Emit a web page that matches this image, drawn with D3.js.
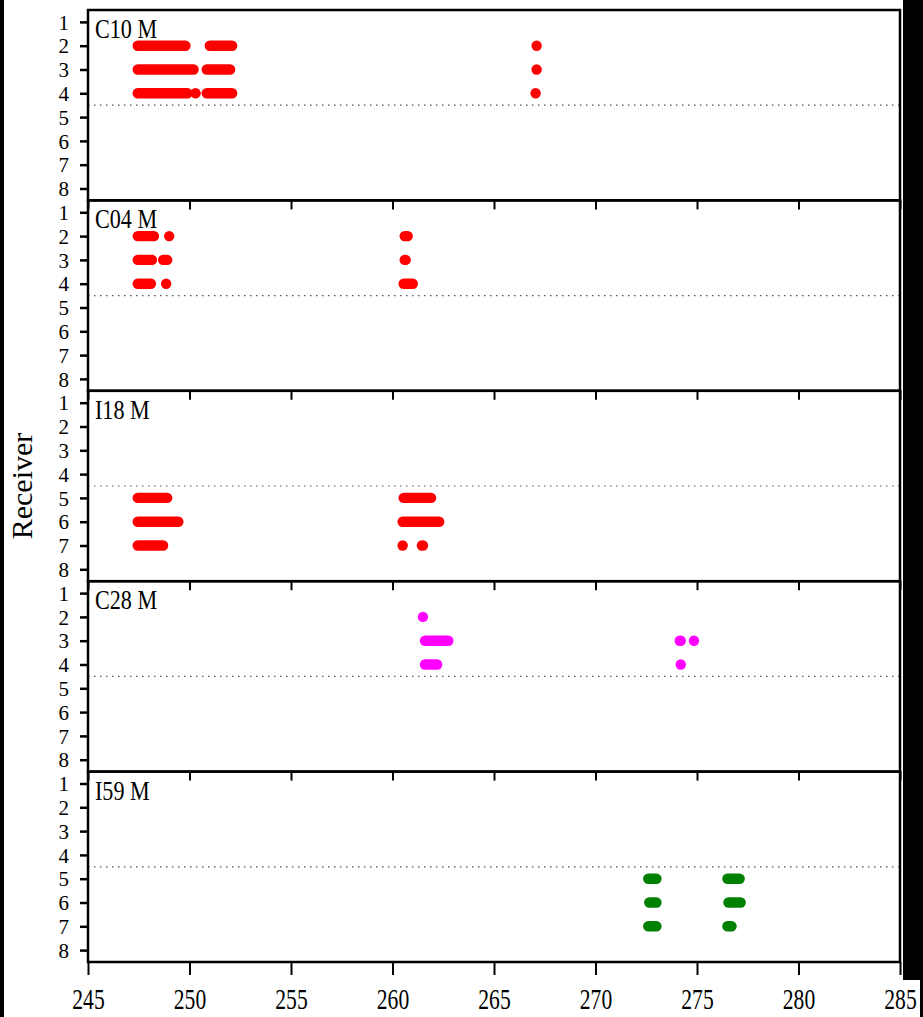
<!DOCTYPE html>
<html>
<head>
<meta charset="utf-8">
<script src="https://cdn.jsdelivr.net/npm/d3@7"></script>
<style>
  html, body { margin: 0; padding: 0; background: #000; }
  svg { display: block; }
</style>
</head>
<body>
<div id="chart"></div>
<script>
const panelNames = ['C10 M', 'C04 M', 'I18 M', 'C28 M', 'I59 M'];
const panelColors = ['#ff0000', '#ff0000', '#ff0000', '#ff00ff', '#008000'];
const receivers = [1, 2, 3, 4, 5, 6, 7, 8];
const xTicks = [245, 250, 255, 260, 265, 270, 275, 280, 285];
const splitLine = 4.5;

// detection runs: [receiver, start, end]
const c10Runs = [
    [2, 247.45, 249.8], [2, 251.0, 252.1],
    [3, 247.45, 250.2], [3, 250.85, 252.0],
    [4, 247.45, 249.9], [4, 250.3, 250.3], [4, 250.85, 252.1],
    [2, 267.1, 267.1], [3, 267.1, 267.1], [4, 267.05, 267.05]
];
const c04Runs = [
    [2, 247.45, 248.25], [2, 249.0, 249.0],
    [3, 247.45, 248.15], [3, 248.7, 248.9],
    [4, 247.45, 248.1], [4, 248.85, 248.85],
    [2, 260.6, 260.75], [3, 260.6, 260.65], [4, 260.55, 261.0]
];
const i18Runs = [
    [5, 247.45, 248.9], [6, 247.45, 249.45], [7, 247.45, 248.7],
    [5, 260.55, 261.9], [6, 260.5, 262.3], [7, 260.5, 260.5], [7, 261.45, 261.5]
];
const c28Runs = [
    [2, 261.5, 261.5], [3, 261.6, 262.75], [4, 261.6, 262.2],
    [3, 274.15, 274.2], [3, 274.85, 274.85], [4, 274.2, 274.2]
];
const i59Runs = [
    [5, 272.6, 273.0], [5, 276.5, 277.1],
    [6, 272.65, 273.0], [6, 276.55, 277.15],
    [7, 272.6, 273.0], [7, 276.5, 276.7]
];
const panelRuns = [c10Runs, c04Runs, i18Runs, c28Runs, i59Runs];

const width = 923;
const height = 1017;
const margin = { top: 10, left: 88, right: 23, bottom: 55 };
const innerW = width - margin.left - margin.right;
const panelH = (height - margin.top - margin.bottom) / panelNames.length;
const dotR = 5.2;
const serif = '"Liberation Serif", "Times New Roman", serif';

const svg = d3.select('#chart').append('svg')
    .attr('width', width)
    .attr('height', height);

svg.append('rect')
    .attr('x', 4)
    .attr('y', 0)
    .attr('width', 899)
    .attr('height', height)
    .attr('fill', '#fff');

// label area under the last tick
svg.append('rect')
    .attr('x', 880)
    .attr('y', 980)
    .attr('width', 40)
    .attr('height', height - 980)
    .attr('fill', '#fff');

const x = d3.scaleLinear().domain([245, 285]).range([0, innerW]);
const y = d3.scaleLinear().domain([0.5, 8.5]).range([0, panelH]);

panelNames.forEach((name, i) => {
    const g = svg.append('g')
        .attr('transform', `translate(${margin.left},${margin.top + i * panelH})`);

    g.append('line')
        .attr('x1', 0)
        .attr('x2', innerW)
        .attr('y1', y(splitLine))
        .attr('y2', y(splitLine))
        .attr('stroke', '#555')
        .attr('stroke-width', 1.2)
        .attr('stroke-dasharray', '1.5,4.5');

    g.selectAll('.run')
        .data(panelRuns[i])
        .enter()
        .append('rect')
        .attr('x', d => x(d[1]) - dotR)
        .attr('y', d => y(d[0]) - dotR)
        .attr('width', d => x(d[2]) - x(d[1]) + 2 * dotR)
        .attr('height', 2 * dotR)
        .attr('rx', dotR)
        .attr('fill', panelColors[i]);

    const yAxis = g.append('g')
        .call(d3.axisLeft(y).tickValues(receivers).tickFormat(d3.format('d')).tickSize(8).tickPadding(11));
    yAxis.select('.domain').remove();
    yAxis.selectAll('line').attr('stroke', '#000').attr('stroke-width', 2.5);
    yAxis.selectAll('text')
        .attr('fill', '#000')
        .style('font-family', serif)
        .style('font-size', '21px')
        .attr('dy', '0.34em');

    const last = i === panelNames.length - 1;
    const xAxis = g.append('g')
        .attr('transform', `translate(0,${panelH})`)
        .call(d3.axisBottom(x).tickValues(xTicks).tickSize(last ? 13 : 9).tickPadding(13));
    xAxis.select('.domain').remove();
    xAxis.selectAll('line').attr('stroke', '#000').attr('stroke-width', 2);
    if (last) {
        xAxis.selectAll('text')
            .attr('fill', '#000')
            .attr('transform', 'scale(0.72,1)')
            .style('font-family', serif)
            .style('font-size', '30px');
    } else {
        xAxis.selectAll('text').remove();
    }

    g.append('rect')
        .attr('width', innerW)
        .attr('height', panelH)
        .attr('fill', 'none')
        .attr('stroke', '#000')
        .attr('stroke-width', 2.5);

    g.append('text')
        .attr('transform', 'translate(7,28) scale(0.82,1)')
        .style('font-family', serif)
        .style('font-size', '27px')
        .attr('fill', '#000')
        .text(name);
});

svg.append('text')
    .attr('transform', `translate(32,${margin.top + 2.5 * panelH}) rotate(-90)`)
    .attr('text-anchor', 'middle')
    .style('font-family', serif)
    .style('font-size', '30px')
    .attr('fill', '#000')
    .text('Receiver');
</script>
</body>
</html>
